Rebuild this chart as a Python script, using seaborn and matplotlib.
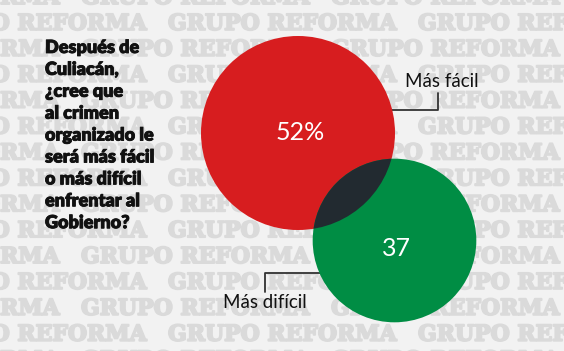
import matplotlib
matplotlib.use("Agg")
import matplotlib.pyplot as plt
import matplotlib.patheffects as pe
import seaborn as sns
from matplotlib.patches import Circle
import numpy as np

# data
categories = ["Más fácil", "Más difícil"]
values = [52, 37]
value_labels = ["52%", "37"]
question = ["Después de", "Culiacán,", "¿cree que", "al crimen",
            "organizado le", "será más fácil", "o más difícil",
            "enfrentar al", "Gobierno?"]
watermark = "GRUPO REFORMA"

sns.set_theme(style="white")
plt.rcParams['font.family'] = ['Lato', 'DejaVu Sans']

W, H = 564, 351
fig = plt.figure(figsize=(W / 100, H / 100), dpi=100)
ax = fig.add_axes([0, 0, 1, 1])
ax.set_xlim(0, W)
ax.set_ylim(H, 0)
ax.set_aspect("equal")
ax.axis("off")
fig.patch.set_facecolor("#f2f2f2")

# watermark font size so that one "GRUPO REFORMA" is ~231 px wide
renderer = fig.canvas.get_renderer()
probe = ax.text(0, 0, watermark, fontsize=17, fontweight="bold",
                family=["DejaVu Serif", "Liberation Serif"])
wm_size = 17 * 229 / probe.get_window_extent(renderer).width
probe.remove()

wm_color = "#dadada"
for k in range(15):
    y = -2 + 25.9 * k
    x0 = 81 if k % 2 == 0 else 168
    for n in range(-2, 3):
        ax.text(x0 + 250 * n, y, watermark, ha="left", va="center",
                fontsize=wm_size, fontweight="bold",
                family=["DejaVu Serif", "Liberation Serif"],
                color=wm_color, zorder=0,
                path_effects=[pe.withStroke(linewidth=1.4, foreground=wm_color)])

# circles: area proportional to value
k_r = 97 / np.sqrt(values[0])
centers = [(298, 133), (394.5, 240.5)]
colors = ["#d71d1f", "#008d44"]
radii = [k_r * np.sqrt(v) for v in values]

red = Circle(centers[0], radii[0], color=colors[0], zorder=3, lw=0)
green = Circle(centers[1], radii[1], color=colors[1], zorder=3, lw=0)
ax.add_patch(red)
ax.add_patch(green)
inter = Circle(centers[0], radii[0], color="#222a30", zorder=4, lw=0)
ax.add_patch(inter)
inter.set_clip_path(green)

ax.text(300, 133, value_labels[0], ha="center", va="center", fontsize=18,
        color="white", zorder=5)
ax.text(396, 249, value_labels[1], ha="center", va="center", fontsize=18,
        color="white", zorder=5)

# leader lines
ax.plot([300, 438, 438], [110, 110, 93], color="#333333", lw=1.3, zorder=2)
ax.plot([394, 265, 265], [272.5, 272.5, 292], color="#333333", lw=1.3, zorder=2)
ax.text(405, 86.7, categories[0], ha="left", va="baseline", fontsize=13.5,
        color="#111111", zorder=5)
ax.text(265, 308, categories[1], ha="center", va="baseline", fontsize=13.5,
        color="#111111", zorder=5)

# question
for i, line in enumerate(question):
    ax.text(45, 53 + 21.9 * i, line, ha="left", va="baseline", fontsize=13,
            fontweight="heavy", color="#111111", zorder=5,
            path_effects=[pe.withStroke(linewidth=0.6, foreground="#111111")])

fig.savefig("out.png", dpi=100, facecolor=fig.get_facecolor())
